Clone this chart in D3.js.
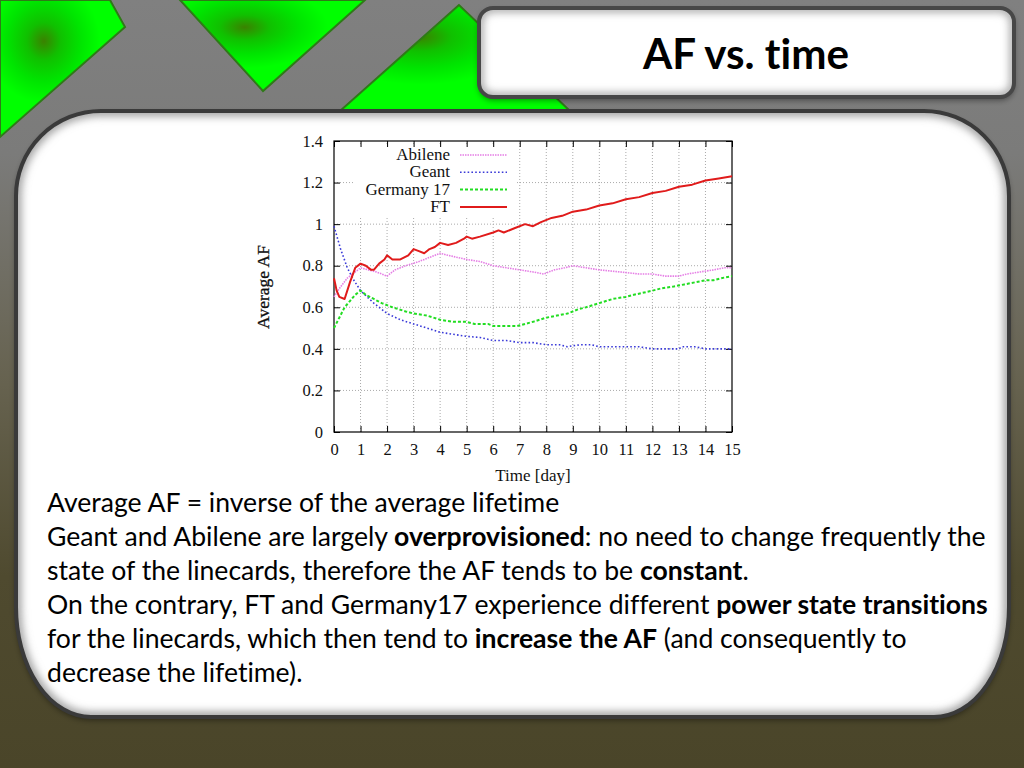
<!DOCTYPE html>
<html><head><meta charset="utf-8">
<script src="https://cdn.jsdelivr.net/npm/d3@7"></script>
<style>html,body{margin:0;padding:0;background:#fff;}svg{display:block;}text{font-variant-ligatures:none;font-feature-settings:"liga" 0;}</style>
</head><body>
<svg id="s" width="1024" height="768"></svg>
<script>
// ---------- data ----------
const days = d3.range(0, 16);
const yTicks = [0, 0.2, 0.4, 0.6, 0.8, 1.0, 1.2, 1.4];
const seriesNames = ["Abilene", "Geant", "Germany 17", "FT"];

const abilene = [[0,0.65],[0.2,0.69],[0.5,0.74],[0.8,0.77],[1.0,0.79],[1.3,0.78],[1.6,0.77],[2.0,0.75],[2.3,0.78],[2.7,0.80],[3.2,0.82],[3.6,0.84],[4.0,0.86],[4.3,0.85],[5.0,0.83],[5.5,0.82],[6.0,0.80],[6.5,0.79],[7.0,0.78],[7.5,0.77],[7.9,0.76],[8.3,0.78],[8.7,0.79],[9.0,0.80],[9.5,0.79],[10.0,0.78],[10.8,0.77],[11.5,0.76],[12.0,0.76],[12.5,0.75],[13.0,0.75],[13.3,0.76],[13.8,0.77],[14.3,0.78],[14.7,0.79],[15.0,0.79]];
const geant = [[0,0.99],[0.25,0.88],[0.5,0.79],[0.75,0.73],[1.0,0.68],[1.25,0.65],[1.5,0.62],[2.0,0.57],[2.5,0.54],[3.0,0.52],[3.5,0.50],[4.0,0.48],[4.5,0.47],[5.0,0.46],[5.5,0.455],[6.0,0.44],[6.5,0.44],[7.0,0.43],[7.5,0.43],[8.0,0.42],[8.5,0.42],[8.8,0.41],[9.0,0.415],[9.3,0.42],[9.7,0.42],[10.0,0.41],[11.0,0.41],[11.5,0.41],[12.0,0.40],[13.0,0.40],[13.1,0.41],[13.6,0.41],[14.0,0.40],[15.0,0.40]];
const germany17 = [[0,0.50],[0.2,0.55],[0.4,0.60],[0.6,0.63],[0.8,0.66],[1.0,0.68],[1.2,0.66],[1.5,0.64],[1.8,0.62],[2.2,0.60],[2.7,0.58],[3.0,0.57],[3.5,0.56],[4.0,0.54],[4.5,0.53],[5.0,0.53],[5.3,0.52],[5.8,0.52],[6.0,0.51],[6.9,0.51],[7.2,0.52],[7.5,0.53],[8.0,0.55],[8.4,0.56],[8.8,0.57],[9.2,0.59],[9.5,0.60],[10.0,0.62],[10.5,0.64],[11.0,0.65],[11.3,0.66],[12.0,0.68],[12.3,0.69],[12.8,0.70],[13.2,0.71],[13.6,0.72],[14.0,0.73],[14.3,0.73],[14.6,0.74],[15.0,0.75]];
const ft = [[0,0.74],[0.1,0.68],[0.2,0.65],[0.4,0.64],[0.6,0.72],[0.8,0.79],[1.0,0.81],[1.2,0.80],[1.4,0.78],[1.5,0.78],[1.7,0.81],[1.9,0.83],[2.0,0.85],[2.2,0.83],[2.5,0.83],[2.8,0.85],[3.0,0.88],[3.2,0.87],[3.4,0.86],[3.6,0.88],[3.8,0.89],[4.0,0.91],[4.3,0.90],[4.6,0.91],[4.9,0.93],[5.0,0.94],[5.2,0.93],[5.5,0.94],[6.0,0.96],[6.2,0.97],[6.4,0.96],[6.8,0.98],[7.2,1.00],[7.5,0.99],[7.8,1.01],[8.2,1.03],[8.6,1.04],[9.0,1.06],[9.5,1.07],[10.0,1.09],[10.5,1.10],[11.0,1.12],[11.5,1.13],[12.0,1.15],[12.5,1.16],[13.0,1.18],[13.5,1.19],[14.0,1.21],[14.5,1.22],[15.0,1.23]];

const textLines = [
  [["Average AF = inverse of the average lifetime", false]],
  [["Geant and Abilene are largely ", false], ["overprovisioned", true], [": no need to change frequently the", false]],
  [["state of the linecards, therefore the AF tends to be ", false], ["constant", true], [".", false]],
  [["On the contrary, FT and Germany17 experience different ", false], ["power state transitions", true]],
  [["for the linecards, which then tend to ", false], ["increase the AF", true], [" (and consequently to", false]],
  [["decrease the lifetime).", false]]
];

// ---------- drawing ----------
const svg = d3.select("#s");
const defs = svg.append("defs");

const bg = defs.append("linearGradient").attr("id","bg").attr("x1",0).attr("y1",0).attr("x2",0).attr("y2",1);
[[0,"#808080"],[0.2,"#7b7b7a"],[0.5,"#66624f"],[0.75,"#4f4a2f"],[1,"#4a4529"]].forEach(s=>bg.append("stop").attr("offset",s[0]).attr("stop-color",s[1]));

const gg = defs.append("radialGradient").attr("id","gr").attr("cx","35%").attr("cy","30%").attr("r","45%");
[[0,"#3a8200"],[0.3,"#10c000"],[0.65,"#00e400"],[1,"#00ff00"]].forEach(s=>gg.append("stop").attr("offset",s[0]).attr("stop-color",s[1]));

const sh = defs.append("filter").attr("id","sh").attr("x","-5%").attr("y","-5%").attr("width","110%").attr("height","115%");
sh.append("feDropShadow").attr("dx",0).attr("dy",3).attr("stdDeviation",3).attr("flood-color","#000").attr("flood-opacity",0.45);
const bl = defs.append("filter").attr("id","bl");
bl.append("feGaussianBlur").attr("stdDeviation",4);

svg.append("rect").attr("width",1024).attr("height",768).attr("fill","url(#bg)");

const greens = [
  [[0,0],[110,0],[125,27],[0,137]],
  [[180,0],[365,0],[263,91]],
  [[459,5],[340,111],[570,111]]
];
svg.selectAll("polygon.g").data(greens).join("polygon").attr("class","g")
  .attr("points",d=>d.map(p=>p.join(",")).join(" "))
  .attr("fill","url(#gr)").attr("stroke","#2f7a18").attr("stroke-width",2);

// main panel
const L=16,R=1009,T=111,B=717,rt=85,rbx=75,rby=110;
const panelPath = `M${L+rt},${T}H${R-rt}A${rt},${rt} 0 0 1 ${R},${T+rt}V${B-rby}A${rbx},${rby} 0 0 1 ${R-rbx},${B}H${L+rbx}A${rbx},${rby} 0 0 1 ${L},${B-rby}V${T+rt}A${rt},${rt} 0 0 1 ${L+rt},${T}Z`;
defs.append("clipPath").attr("id","pc").append("path").attr("d",panelPath);
svg.append("path").attr("d",panelPath).attr("fill","#fff").attr("filter","url(#sh)");
svg.append("g").attr("clip-path","url(#pc)").append("path").attr("d",panelPath)
  .attr("fill","none").attr("stroke","#9a9a9a").attr("stroke-width",10).attr("filter","url(#bl)");
svg.append("path").attr("d",panelPath).attr("fill","none").attr("stroke","#3a3a3a").attr("stroke-width",4);

// title box
defs.append("clipPath").attr("id","tc").append("rect").attr("x",479).attr("y",8).attr("width",535).attr("height",89).attr("rx",14);
svg.append("rect").attr("x",479).attr("y",8).attr("width",535).attr("height",89).attr("rx",14).attr("fill","#fff").attr("filter","url(#sh)");
svg.append("g").attr("clip-path","url(#tc)").append("rect").attr("x",479).attr("y",8).attr("width",535).attr("height",89).attr("rx",14)
  .attr("fill","none").attr("stroke","#a0a0a0").attr("stroke-width",8).attr("filter","url(#bl)");
svg.append("rect").attr("x",479).attr("y",8).attr("width",535).attr("height",89).attr("rx",14).attr("fill","none").attr("stroke","#474747").attr("stroke-width",4);
const title = svg.append("text").attr("x",746).attr("y",69).attr("text-anchor","middle")
  .attr("font-family","Lato, 'Open Sans', sans-serif").attr("font-weight","bold").attr("font-size",40).attr("fill","#000").text("AF vs. time");
{ const w = title.node().getComputedTextLength(); title.attr("font-size", 40*206/w); }

// ---------- chart ----------
const x = d3.scaleLinear().domain([0,15]).range([334,732]);
const y = d3.scaleLinear().domain([0,1.4]).range([432,141]);
const serif = "'Liberation Serif', 'DejaVu Serif', serif";
const chart = svg.append("g");

// grid
chart.append("g").selectAll("line").data(days.filter(d=>d>0&&d<15)).join("line")
  .attr("x1",d=>x(d)).attr("x2",d=>x(d)).attr("y1",y(0)).attr("y2",y(1.4))
  .attr("stroke","#aaa").attr("stroke-width",1).attr("stroke-dasharray","1,2");
chart.append("g").selectAll("line").data(yTicks.filter(d=>d>0&&d<1.4)).join("line")
  .attr("x1",x(0)).attr("x2",x(15)).attr("y1",d=>y(d)).attr("y2",d=>y(d))
  .attr("stroke","#aaa").attr("stroke-width",1).attr("stroke-dasharray","1,2");

// legend background
chart.append("rect").attr("x",355).attr("y",144).attr("width",160).attr("height",72).attr("fill","#fff");

// axes
const fmt = d => String(+d.toFixed(1));
const ax = chart.append("g").attr("transform",`translate(0,${y(0)})`)
  .call(d3.axisBottom(x).tickValues(days).tickSizeInner(-6).tickSizeOuter(0).tickPadding(11).tickFormat(d3.format("d")));
const axT = chart.append("g").attr("transform",`translate(0,${y(1.4)})`)
  .call(d3.axisTop(x).tickValues(days).tickSizeInner(-6).tickSizeOuter(0).tickFormat(""));
const ay = chart.append("g").attr("transform",`translate(${x(0)},0)`)
  .call(d3.axisLeft(y).tickValues(yTicks).tickSizeInner(-6).tickSizeOuter(0).tickPadding(11).tickFormat(fmt));
const ayR = chart.append("g").attr("transform",`translate(${x(15)},0)`)
  .call(d3.axisRight(y).tickValues(yTicks).tickSizeInner(-6).tickSizeOuter(0).tickFormat(""));
[ax,axT,ay,ayR].forEach(g=>{
  g.select(".domain").remove();
  g.selectAll("line").attr("stroke","#000");
  g.selectAll("text").attr("font-family",serif).attr("font-size",16.5).attr("fill","#111");
});
chart.append("rect").attr("x",x(0)).attr("y",y(1.4)).attr("width",x(15)-x(0)).attr("height",y(0)-y(1.4))
  .attr("fill","none").attr("stroke","#000").attr("stroke-width",1.2);

// axis titles
chart.append("text").attr("x",533).attr("y",481).attr("text-anchor","middle").attr("font-family",serif).attr("font-size",17).attr("fill","#111").text("Time [day]");
chart.append("text").attr("transform","translate(269,287) rotate(-90)").attr("text-anchor","middle").attr("font-family",serif).attr("font-size",17.5).attr("fill","#111").attr("stroke","#111").attr("stroke-width",0.3).text("Average AF");

// series
const styles = [
  {data:abilene, color:"#e57ee5", w:1.6, dash:"1.5,1"},
  {data:geant, color:"#3a3ad8", w:1.6, dash:"1.6,2.2"},
  {data:germany17, color:"#22dd22", w:2, dash:"3,2"},
  {data:ft, color:"#e01b1b", w:2, dash:null}
];
const line = d3.line().x(d=>x(d[0])).y(d=>y(d[1])).curve(d3.curveLinear);
chart.append("g").selectAll("path").data(styles).join("path")
  .attr("d",d=>line(d.data)).attr("fill","none").attr("stroke",d=>d.color).attr("stroke-width",d=>d.w)
  .attr("stroke-dasharray",d=>d.dash).attr("stroke-linejoin","round");

// legend
const lg = chart.append("g").selectAll("g").data(styles).join("g")
  .attr("transform",(d,i)=>`translate(0,${155+i*17.3})`);
lg.append("text").attr("x",450).attr("y",5).attr("text-anchor","end").attr("font-family",serif).attr("font-size",17).attr("fill","#111").text((d,i)=>seriesNames[i]);
lg.append("line").attr("x1",460).attr("x2",507).attr("y1",0).attr("y2",0)
  .attr("stroke",d=>d.color).attr("stroke-width",d=>d.w).attr("stroke-dasharray",d=>d.dash);

// ---------- text block ----------
const tb = svg.append("g").attr("font-family","Lato, 'Open Sans', sans-serif").attr("fill","#000");
const tl = tb.selectAll("text").data(textLines).join("text")
  .attr("x",47).attr("y",(d,i)=>512+i*34).attr("font-size",26);
tl.selectAll("tspan").data(d=>d).join("tspan").attr("font-weight",d=>d[1]?"bold":"normal").text(d=>d[0]);
{ const w = tl.nodes()[1].getComputedTextLength(); tb.selectAll("text").attr("font-size", 26*939/w); }
</script>
</body></html>
